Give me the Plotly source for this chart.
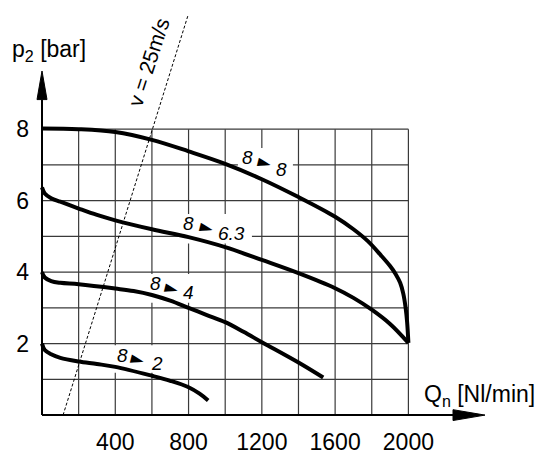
import plotly.graph_objects as go

# ---------------- data ----------------
q_8_8 = [0, 200, 400, 600, 800, 1000, 1200, 1400, 1600, 1700, 1780, 1850, 1900, 1930, 1955, 1972, 1985, 1993, 2000]
p_8_8 = [8.02, 8.0, 7.92, 7.7, 7.38, 7.03, 6.6, 6.1, 5.55, 5.2, 4.86, 4.47, 4.17, 3.95, 3.7, 3.4, 3.0, 2.6, 2.02]

q_8_63 = [0, 15, 50, 100, 200, 300, 400, 600, 800, 1000, 1200, 1400, 1600, 1700, 1800, 1900, 2000]
p_8_63 = [6.37, 6.2, 6.07, 5.97, 5.78, 5.6, 5.45, 5.2, 4.98, 4.7, 4.34, 3.97, 3.55, 3.28, 2.95, 2.55, 2.02]

q_8_4 = [0, 15, 50, 100, 200, 400, 500, 600, 700, 800, 900, 1000, 1100, 1200, 1400, 1535]
p_8_4 = [4.0, 3.85, 3.75, 3.7, 3.66, 3.54, 3.47, 3.36, 3.2, 3.0, 2.8, 2.6, 2.33, 2.04, 1.47, 1.05]

q_8_2 = [0, 15, 50, 100, 200, 300, 400, 600, 700, 800, 860, 907]
p_8_2 = [2.0, 1.82, 1.7, 1.6, 1.5, 1.43, 1.35, 1.1, 0.96, 0.78, 0.6, 0.41]

v_line_q = [115, 798]
v_line_p = [0, 11.2]

x_ticks = [400, 800, 1200, 1600, 2000]
y_ticks = [2, 4, 6, 8]
grid_q = list(range(0, 2001, 200))
grid_p = list(range(0, 9))

curve_labels = [("8", "8"), ("8", "6.3"), ("8", "4"), ("8", "2")]

# ---------------- layout geometry ----------------
W, H = 535, 455
AX_X, AX_Y = 42, 421          # pixel position of the data origin
ML, MR, MT, MB = 30, 35, 0, 27
PW = W - ML - MR
PH = H - MT - MB
PX_X = 36.64 / 200.0          # px per Nl/min
PX_Y = 36.25                  # px per bar

def dx(px):
    return px / PX_X

def dy(px):
    return px / PX_Y

X0 = -dx(AX_X - ML)
X1 = X0 + dx(PW)
Y0 = -dy((H - MB) - AX_Y)
Y1 = Y0 + dy(PH)

fig = go.Figure()

shapes = []
GRID_C = "#3a3a3a"
for g in grid_q:
    shapes.append(dict(type="line", x0=g, x1=g, y0=0, y1=grid_p[-1], layer="below",
                       line=dict(color=GRID_C, width=1.2)))
for g in grid_p:
    shapes.append(dict(type="line", x0=0, x1=grid_q[-1], y0=g, y1=g, layer="below",
                       line=dict(color=GRID_C, width=1.2)))

# label anchor positions (data coords of first glyph) and shifts (px)
label_pos = [(1124, 7.2), (802, 5.35), (617, 3.67), (437, 1.68)]
tri_shift = [(17, -4), (18, -3), (17, -4), (16, -4)]
second_shift = [(34, -12), (43, -10), (33, -9), (35, -8)]
second_w = [12, 30, 12, 12]

annotations = []
LBL_FONT = dict(family="Liberation Sans", size=19, color="black")
for (a, b), (lx, ly), ts, ss, sw in zip(curve_labels, label_pos, tri_shift, second_shift, second_w):
    shapes.append(dict(type="rect", layer="below",
                       x0=lx - dx(10), x1=lx + dx(ss[0] + sw / 2 + 5),
                       y0=ly - dy(-ss[1] + 10), y1=ly + dy(10),
                       fillcolor="white", line=dict(width=0)))
    annotations.append(dict(x=lx, y=ly, text="<i>%s</i>" % a, showarrow=False,
                            font=LBL_FONT, xanchor="center", yanchor="middle"))
    annotations.append(dict(x=lx, y=ly, text="►", showarrow=False, textangle=14,
                            font=dict(family="DejaVu Sans", size=17, color="black"),
                            xshift=ts[0], yshift=ts[1], xanchor="center", yanchor="middle"))
    annotations.append(dict(x=lx, y=ly, text="<i>%s</i>" % b, showarrow=False,
                            font=LBL_FONT, xshift=ss[0], yshift=ss[1],
                            xanchor="center", yanchor="middle"))

# axes lines with arrows
X_TIP, X_BASE = dx(485 - AX_X), dx(453 - AX_X)
Y_TIP, Y_BASE = dy(AX_Y - 72), dy(AX_Y - 101)
shapes.append(dict(type="line", x0=0, x1=X_BASE, y0=0, y1=0, line=dict(color="black", width=2)))
shapes.append(dict(type="line", x0=0, x1=0, y0=0, y1=Y_BASE, line=dict(color="black", width=2)))

fig.add_trace(go.Scatter(x=[X_BASE, X_TIP, X_BASE, X_BASE], y=[dy(5.5), 0, -dy(5.5), dy(5.5)],
                         fill="toself", fillcolor="black", mode="lines",
                         line=dict(color="black", width=1), hoverinfo="skip", cliponaxis=False))
fig.add_trace(go.Scatter(x=[-dx(5), 0, dx(5), -dx(5)], y=[Y_BASE, Y_TIP, Y_BASE, Y_BASE],
                         fill="toself", fillcolor="black", mode="lines",
                         line=dict(color="black", width=1), hoverinfo="skip", cliponaxis=False))

# v = 25 m/s dashed line
fig.add_trace(go.Scatter(x=v_line_q, y=v_line_p, mode="lines",
                         line=dict(color="black", width=1, dash="3px,2px"), cliponaxis=False))

for q, p in [(q_8_8, p_8_8), (q_8_63, p_8_63), (q_8_4, p_8_4), (q_8_2, p_8_2)]:
    fig.add_trace(go.Scatter(x=q, y=p, mode="lines",
                             line=dict(color="black", width=4, shape="spline", smoothing=1.0),
                             cliponaxis=False))

TITLE_FONT = dict(family="Liberation Sans", size=23, color="black")
annotations.append(dict(x=585, y=9.88, text="v = 25m/s", textangle=-72, showarrow=False,
                        font=dict(family="Liberation Sans", size=21, color="black"),
                        xanchor="center", yanchor="middle"))
annotations.append(dict(xref="paper", yref="paper", x=(10 - ML) / PW, y=(H - MB - 51) / PH,
                        text="p<sub>2</sub> [bar]", showarrow=False,
                        font=TITLE_FONT, xanchor="left", yanchor="middle"))
annotations.append(dict(xref="paper", yref="paper", x=(422 - ML) / PW, y=(H - MB - 401) / PH,
                        text="Q<sub>n</sub> [Nl/min]", showarrow=False,
                        font=TITLE_FONT, xanchor="left", yanchor="middle"))

fig.update_layout(
    width=W, height=H, margin=dict(l=ML, r=MR, t=MT, b=MB),
    paper_bgcolor="white", plot_bgcolor="white", showlegend=False,
    shapes=shapes, annotations=annotations,
    xaxis=dict(range=[X0, X1], showgrid=False, zeroline=False, showline=False,
               tickvals=x_ticks, ticktext=[str(t) for t in x_ticks], ticks="",
               tickfont=dict(family="Liberation Sans", size=23, color="black"),
               ticklabelstandoff=4, fixedrange=True),
    yaxis=dict(range=[Y0, Y1], showgrid=False, zeroline=False, showline=False,
               tickvals=y_ticks, ticktext=[str(t) for t in y_ticks], ticks="",
               tickfont=dict(family="Liberation Sans", size=23, color="black"),
               ticklabelstandoff=0, fixedrange=True),
)

fig.write_html("out.html", config={"displayModeBar": False},
               post_script="document.body.style.margin='0';")
